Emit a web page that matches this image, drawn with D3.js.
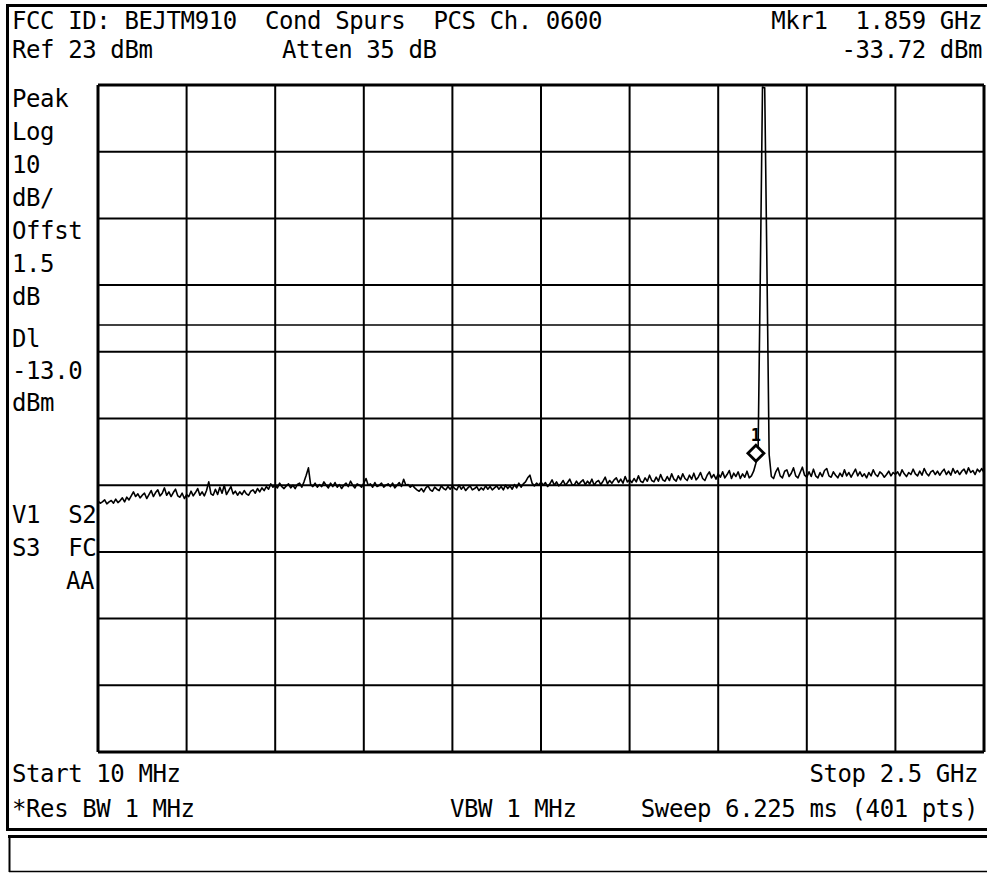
<!DOCTYPE html>
<html>
<head>
<meta charset="utf-8">
<script src="https://cdn.jsdelivr.net/npm/d3@7/dist/d3.min.js"></script>
<style>
body { margin: 0; background: #fff; }
text { font-family: "DejaVu Sans Mono", monospace; font-size: 24px; letter-spacing: -0.4px; fill: #000; white-space: pre; }
</style>
</head>
<body>
<script>
// ----------------------------------------------- Data ------------------------------------------------ //
var start_mhz = 10,
    stop_mhz = 2500,
    ref_dbm = 23,
    db_per_div = 10,
    n_div = 10,
    dl_dbm = -13.0;

var marker_mhz = 1859,
    marker_dbm = -33.72,
    marker_label = "1";

var top_left = ["FCC ID: BEJTM910  Cond Spurs  PCS Ch. 0600", "Ref 23 dBm"];
var top_mid = ["", "Atten 35 dB"];
var top_right = ["Mkr1  1.859 GHz", "-33.72 dBm"];
var side_upper = ["Peak", "Log", "10", "dB/", "Offst", "1.5", "dB"];
var side_dl = ["Dl", "-13.0", "dBm"];
var side_lower = ["V1  S2", "S3  FC", "AA"];
var bottom_left = ["Start 10 MHz", "*Res BW 1 MHz"];
var bottom_mid = ["", "VBW 1 MHz"];
var bottom_right = ["Stop 2.5 GHz", "Sweep 6.225 ms (401 pts)"];

// 401 trace points (dBm)
var trace_dbm = [
  -39.4,-39.7,-39.5,-39.2,-39.8,-39.5,-39.3,-39.7,-39.1,-39.6,-39.3,-38.9,-39.5,-38.8,-39.2,-38.6,-38.0,-38.7,-38.3,-38.9,
  -38.5,-38.2,-39.0,-38.4,-37.8,-38.7,-38.1,-37.7,-38.6,-38.2,-37.4,-38.5,-38.0,-38.7,-38.1,-37.6,-38.6,-38.8,-38.2,-39.0,
  -38.4,-38.7,-37.9,-38.6,-38.1,-37.5,-38.5,-38.0,-38.6,-37.8,-36.5,-38.3,-38.5,-37.6,-38.4,-37.3,-38.2,-37.0,-38.4,-37.8,
  -37.2,-38.3,-37.9,-38.5,-38.0,-38.4,-37.8,-38.3,-38.5,-37.9,-37.7,-38.2,-37.5,-38.0,-37.4,-37.8,-37.2,-37.6,-36.8,-37.3,
  -37.0,-37.4,-36.7,-37.2,-37.5,-37.1,-36.8,-37.4,-37.0,-37.5,-36.9,-36.7,-37.3,-36.5,-35.5,-34.4,-36.9,-37.2,-36.7,-37.3,
  -36.9,-37.2,-36.5,-37.0,-37.4,-36.7,-37.2,-36.6,-37.3,-36.9,-37.5,-37.0,-36.7,-37.2,-36.4,-37.0,-37.4,-36.8,-37.0,-37.3,
  -36.7,-36.0,-37.0,-36.8,-37.3,-36.6,-37.2,-37.0,-36.7,-37.3,-37.0,-36.8,-37.2,-36.7,-37.4,-37.0,-36.6,-37.2,-36.1,-37.0,
  -36.9,-37.3,-37.0,-37.4,-37.7,-37.9,-37.5,-38.0,-37.4,-37.1,-37.7,-37.9,-37.3,-37.6,-37.8,-37.1,-37.5,-37.7,-37.2,-37.6,
  -37.1,-37.5,-37.7,-37.0,-37.6,-37.2,-37.8,-37.4,-37.1,-37.7,-37.5,-37.2,-37.8,-37.4,-37.7,-37.1,-37.6,-37.2,-37.7,-37.4,
  -37.1,-37.6,-37.2,-37.7,-37.0,-37.5,-37.1,-37.6,-36.9,-37.4,-36.7,-37.3,-36.8,-36.5,-35.9,-35.5,-36.7,-37.1,-36.7,-37.0,
  -36.5,-37.0,-36.6,-37.2,-36.8,-36.2,-37.0,-36.5,-37.1,-36.8,-36.3,-37.0,-36.6,-36.1,-36.9,-37.0,-36.4,-36.9,-36.5,-36.2,
  -36.9,-36.4,-36.8,-36.1,-37.0,-36.5,-36.3,-36.9,-36.4,-35.8,-36.8,-36.3,-36.7,-36.2,-35.9,-36.6,-36.1,-36.7,-35.7,-36.5,
  -36.2,-36.6,-36.0,-36.5,-35.6,-36.4,-36.6,-35.9,-36.4,-35.5,-36.3,-36.5,-35.8,-36.4,-35.4,-36.2,-36.4,-35.7,-36.3,-35.3,
  -36.1,-36.4,-35.6,-36.2,-35.3,-36.0,-36.3,-35.5,-36.1,-35.2,-36.2,-35.8,-35.1,-36.0,-36.3,-35.5,-35.0,-35.9,-35.4,-36.1,
  -35.3,-35.8,-35.0,-35.9,-35.4,-34.8,-36.0,-35.2,-35.7,-35.0,-36.0,-35.3,-35.8,-34.9,-35.9,-35.6,-34.9,-33.7,-32.2,-5.8,
  22.7,22.6,-4.3,-32.4,-35.7,-36.0,-35.0,-34.4,-35.6,-35.9,-34.9,-34.7,-35.7,-35.2,-34.4,-35.6,-35.9,-35.1,-34.3,-35.5,
  -35.8,-35.0,-35.7,-34.6,-35.6,-35.9,-35.1,-35.7,-34.8,-34.5,-35.6,-35.8,-35.0,-35.5,-35.9,-35.2,-35.7,-34.7,-35.6,-35.1,
  -35.8,-35.2,-34.6,-35.6,-35.0,-35.7,-35.3,-35.9,-35.1,-35.6,-34.7,-35.4,-35.7,-35.0,-35.3,-35.8,-35.4,-34.9,-35.6,-35.1,
  -35.4,-35.0,-35.6,-34.7,-35.3,-35.7,-35.1,-35.4,-34.6,-35.3,-35.6,-34.9,-35.5,-34.5,-35.2,-35.6,-35.0,-34.8,-35.4,-34.9,
  -35.5,-35.0,-34.6,-35.4,-34.9,-35.5,-34.5,-35.2,-34.8,-35.4,-34.9,-34.6,-35.3,-34.4,-35.1,-34.8,-35.4,-34.6,-35.0,-34.5,
  -35.1
];

// --------------------------------------------- Init SVG ---------------------------------------------- //
var width = 987,
    height = 873;

var grid = {left: 98, right: 984, top: 85, bottom: 752};

var svg = d3.select("body")
    .append("svg")
    .attr("width", width)
    .attr("height", height);

svg.append("rect")
    .attr("width", width)
    .attr("height", height)
    .attr("fill", "white");

var x = d3.scaleLinear()
    .domain([start_mhz, stop_mhz])
    .range([grid.left, grid.right]);

var y = d3.scaleLinear()
    .domain([ref_dbm - n_div * db_per_div, ref_dbm])
    .range([grid.bottom, grid.top]);

var step_mhz = (stop_mhz - start_mhz) / (trace_dbm.length - 1);

// ------------------------------------------ Draw Functions ------------------------------------------- //
function draw_frame() {
    var f = svg.append("g").attr("class", "frame")
        .attr("stroke", "black")
        .attr("fill", "none");
    // outer box
    f.append("line").attr("x1", 6).attr("x2", width).attr("y1", 5.5).attr("y2", 5.5).attr("stroke-width", 3);
    f.append("line").attr("x1", 7.5).attr("x2", 7.5).attr("y1", 4).attr("y2", 831).attr("stroke-width", 3);
    f.append("line").attr("x1", 6).attr("x2", width).attr("y1", 829.5).attr("y2", 829.5).attr("stroke-width", 3);
    // lower empty box
    f.append("line").attr("x1", 8).attr("x2", width).attr("y1", 836.5).attr("y2", 836.5).attr("stroke-width", 3);
    f.append("line").attr("x1", 9.5).attr("x2", 9.5).attr("y1", 835).attr("y2", 872).attr("stroke-width", 2);
    f.append("line").attr("x1", 9).attr("x2", width).attr("y1", 871.5).attr("y2", 871.5).attr("stroke-width", 1.5);
}

function draw_grid() {
    var g = svg.append("g").attr("class", "grid")
        .attr("stroke", "black");

    var fx = d3.range(n_div + 1).map(function(i) { return start_mhz + i * (stop_mhz - start_mhz) / n_div; });
    var fy = d3.range(n_div + 1).map(function(i) { return ref_dbm - i * db_per_div; });

    g.selectAll("line.v")
        .data(fx)
        .enter().append("line")
            .attr("class", "v")
            .attr("x1", function(d) { return x(d); })
            .attr("x2", function(d) { return x(d); })
            .attr("y1", grid.top)
            .attr("y2", grid.bottom)
            .attr("stroke-width", function(d, i) { return (i == 0 || i == n_div) ? 3 : 2; });

    g.selectAll("line.h")
        .data(fy)
        .enter().append("line")
            .attr("class", "h")
            .attr("x1", grid.left)
            .attr("x2", grid.right)
            .attr("y1", function(d) { return y(d); })
            .attr("y2", function(d) { return y(d); })
            .attr("stroke-width", function(d, i) { return (i == 0 || i == n_div) ? 3 : 2; });

    // display line
    g.append("line")
        .attr("x1", grid.left)
        .attr("x2", grid.right)
        .attr("y1", y(dl_dbm))
        .attr("y2", y(dl_dbm))
        .attr("stroke-width", 1.5);
}

function draw_trace() {
    var line = d3.line()
        .x(function(d, i) { return x(start_mhz + i * step_mhz); })
        .y(function(d) { return y(d); });

    svg.append("path")
        .datum(trace_dbm)
        .attr("fill", "none")
        .attr("stroke", "black")
        .attr("stroke-width", 1.6)
        .attr("stroke-linejoin", "round")
        .attr("d", line);
}

function draw_marker() {
    var mx = x(marker_mhz),
        my = y(marker_dbm) - 10,
        r = 8;
    svg.append("path")
        .attr("d", "M" + mx + "," + (my - r) + "L" + (mx + r) + "," + my + "L" + mx + "," + (my + r) + "L" + (mx - r) + "," + my + "Z")
        .attr("fill", "white")
        .attr("stroke", "black")
        .attr("stroke-width", 2.8);
    svg.append("text")
        .attr("x", mx)
        .attr("y", my - r - 4)
        .attr("text-anchor", "middle")
        .style("font-size", "17px")
        .style("letter-spacing", "0px")
        .style("font-weight", "bold")
        .text(marker_label);
}

function put_lines(list, x0, y0, pitch, anchor) {
    svg.append("g")
        .selectAll("text")
        .data(list)
        .enter().append("text")
            .attr("x", x0)
            .attr("y", function(d, i) { return y0 + i * pitch; })
            .attr("text-anchor", anchor)
            .text(function(d) { return d; });
}

function draw_texts() {
    put_lines(top_left, 12, 29, 29, "start");
    put_lines(top_mid, 282, 29, 29, "start");
    put_lines(top_right, 982, 29, 29, "end");
    put_lines(side_upper, 12, 107, 33, "start");
    put_lines(side_dl, 12, 347, 32, "start");
    put_lines(side_lower.slice(0, 2), 12, 523, 33, "start");
    put_lines(side_lower.slice(2), 94, 589, 33, "end");
    put_lines(bottom_left, 12, 782, 35, "start");
    put_lines(bottom_mid, 450, 782, 35, "start");
    put_lines(bottom_right, 978, 782, 35, "end");
}

// ----------------------------------------------- Main ------------------------------------------------ //
draw_frame();
draw_grid();
draw_trace();
draw_marker();
draw_texts();
</script>
</body>
</html>
